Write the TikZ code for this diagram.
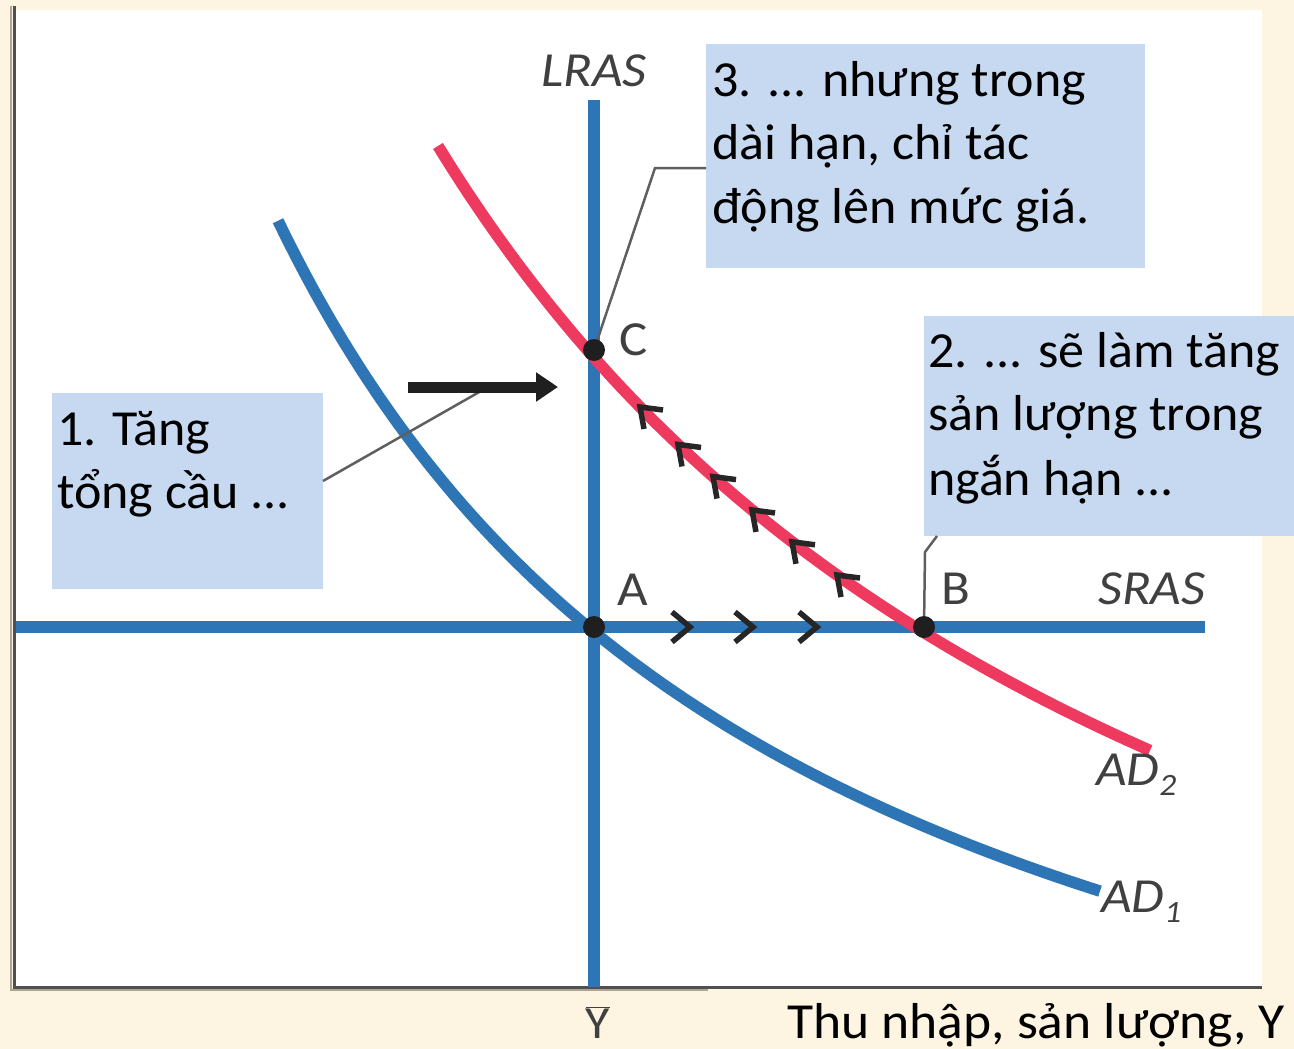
\documentclass[tikz,border=0pt]{standalone}
\usepackage{fontspec}
\setmainfont{Carlito}
\newfontfamily\widefont[FakeStretch=1.03]{Carlito}
\newfontfamily\widerfont[FakeStretch=1.06]{Carlito}
\newfontfamily\lblfont[FakeStretch=1.08]{Carlito}
\usetikzlibrary{arrows.meta}
\definecolor{cream}{RGB}{253,245,225}
\definecolor{adblue}{RGB}{46,117,182}
\definecolor{adred}{RGB}{238,58,94}
\definecolor{boxblue}{RGB}{198,217,240}
\definecolor{axisgray}{RGB}{80,80,80}
\definecolor{shadowgray}{RGB}{175,165,150}
\definecolor{lblgray}{RGB}{64,64,64}
\definecolor{leadgray}{RGB}{95,95,95}
\begin{document}
\begin{tikzpicture}[x=1pt,y=-1pt,
  curve/.style={line width=11.5pt},
  box/.style={fill=boxblue, draw=none, inner sep=0pt, anchor=north west},
  boxtext/.style={anchor=base west, inner sep=0pt, font=\widefont\fontsize{50.5}{60}\selectfont, text=black},
  lbl/.style={anchor=base west, inner sep=0pt, font=\lblfont\fontsize{49}{58}\selectfont, text=lblgray},
  ilbl/.style={lbl, font=\lblfont\fontsize{49}{58}\selectfont\itshape},
  leader/.style={draw=leadgray, line width=2.5pt},
  dot/.style={circle, fill=black!88, inner sep=0pt, minimum size=22pt},
  chev/.style={line width=5.5pt, draw=black!85, line cap=butt, line join=miter}
]
\useasboundingbox (0,0) rectangle (1294,1049);
\fill[cream] (0,0) rectangle (1294,1049);
\fill[white] (16,10) rectangle (1262,986);
% axes
\draw[shadowgray, line width=2pt] (11,6) -- (11,990) -- (708,990);
\draw[axisgray, line width=3pt] (14.5,6) -- (14.5,987.5) -- (1262,987.5);
% boxes
\node[box, minimum width=271pt, minimum height=196pt] (box1) at (52,393) {};
\node[box, minimum width=439pt, minimum height=224pt] (box3) at (706,44) {};
\node[box, minimum width=370pt, minimum height=220pt] (box2) at (924,316) {};
% box texts
\node[boxtext] (t1a) at (57,445) {1. Tăng};
\node[boxtext] (t1b) at (57,508) {tổng cầu ...};
\node[boxtext] (t3a) at (712,96) {3. ... nhưng trong};
\node[boxtext] (t3b) at (712,159) {dài hạn, chỉ tác};
\node[boxtext] (t3c) at (712,223) {động lên mức giá.};
\node[boxtext] (t2a) at (928,367) {2. ... sẽ làm tăng};
\node[boxtext] (t2b) at (928,430) {sản lượng trong};
\node[boxtext] (t2c) at (928,495) {ngắn hạn ...};
% LRAS and SRAS
\draw[adblue, curve] (594,100) -- (594,987);
\draw[adblue, curve] (16,627) -- (1205,627);
% AD curves
\draw[adblue, curve] plot[domain=278:1100, samples=90] (\x, {1326.6 - 594.667/((\x+256)*0.001)});
\draw[adred, curve] plot[domain=438:1150, samples=90] (\x, {1408.9 - 986.324/((\x+337.5)*0.001)});
% points
\coordinate (Cp) at (594,350);
\coordinate (Ap) at (594,627);
\coordinate (Bp) at (924,627);
% leaders
\coordinate (l1a) at (323,481);
\coordinate (l1b) at (481,391);
\draw[leader] (l1a) -- (l1b);
\coordinate (l3a) at (706,168);
\coordinate (l3b) at (655,168);
\draw[leader] (l3a) -- (l3b) -- (Cp);
\coordinate (l2a) at (937,536);
\coordinate (l2b) at (925,552);
\draw[leader] (l2a) -- (l2b) -- (Bp);
% big arrow
\coordinate (ba) at (408,387);
\coordinate (bb) at (558,387);
\draw[black!88, line width=11pt, -{Triangle[length=22pt, width=28pt]}] (ba) -- (bb);
% chevrons on SRAS
\foreach \t in {690,753,817}{
  \draw[chev] (\t-18,612) -- (\t,627) -- (\t-18,642);
}
% chevrons on AD2
\foreach \px in {640,678,713,752,792,837}{
  \pgfmathsetmacro\py{1408.9 - 986.324/((\px+337.5)*0.001)}
  \draw[chev] (\px+23,\py+3) -- (\px,\py) -- (\px+4,\py+22);
}
% dots
\node[dot] (C) at (Cp) {};
\node[dot] (A) at (Ap) {};
\node[dot] (B) at (Bp) {};
% labels
\node[ilbl] (lras) at (541,87) {LRAS};
\node[lbl] (lc) at (619,355) {C};
\node[lbl] (la) at (617,605) {A};
\node[lbl] (lb) at (941,604) {B};
\node[ilbl] (sras) at (1098,604) {SRAS};
\node[ilbl] (ad2) at (1096,785) {AD\raisebox{-10pt}{\fontsize{31}{31}\selectfont 2}};
\node[ilbl] (ad1) at (1101,912) {AD\raisebox{-10pt}{\fontsize{31}{31}\selectfont 1}};
\node[lbl, anchor=base, font=\lblfont\fontsize{46}{50}\selectfont] (ybar) at (598,1038) {$\overline{\mbox{Y}}$};
\node[boxtext, font=\widerfont\fontsize{50.5}{60}\selectfont] (xlab) at (787,1038) {Thu nhập, sản lượng, Y};
\end{tikzpicture}
\end{document}
